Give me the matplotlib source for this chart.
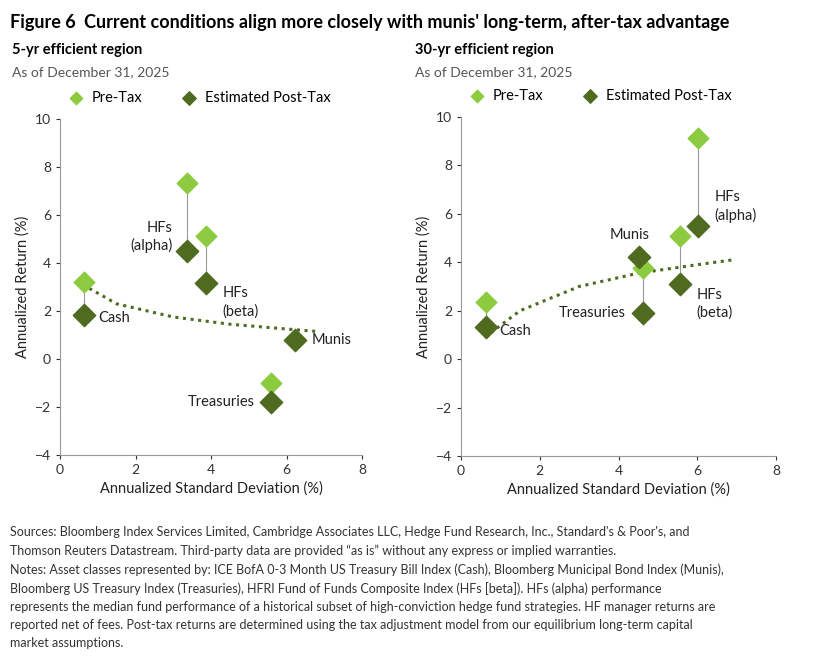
import matplotlib
matplotlib.use("Agg")
import matplotlib.pyplot as plt
import numpy as np

plt.rcParams['font.family'] = ['Lato', 'DejaVu Sans']

labels = ["Cash", "HFs\n(alpha)", "HFs\n(beta)", "Munis", "Treasuries"]
# 5-yr
x5 = [0.64, 3.36, 3.87, 6.22, 5.59]
pre5 = [3.2, 7.33, 5.12, 0.79, -1.0]
post5 = [1.83, 4.5, 3.17, 0.79, -1.79]
trend5_x = [0.6, 1.5, 3.0, 4.5, 6.0, 6.8]
trend5_y = [3.1, 2.3, 1.75, 1.45, 1.25, 1.15]
# 30-yr
x30 = [0.63, 6.02, 5.56, 4.52, 4.62]
pre30 = [2.36, 9.13, 5.08, 4.21, 3.76]
post30 = [1.32, 5.5, 3.1, 4.21, 1.9]
trend30_x = [0.6, 1.5, 3.0, 4.5, 6.0, 6.9]
trend30_y = [0.9, 2.0, 3.0, 3.55, 3.9, 4.1]

light = "#8CCB3F"
dark = "#4E6B1F"

fig = plt.figure(figsize=(8.13, 6.67), dpi=100)
fig.text(0.012, 0.967, "Figure 6", fontsize=13, fontweight='bold', va='center')
fig.text(0.103, 0.967, "Current conditions align more closely with munis' long-term, after-tax advantage",
         fontsize=13, fontweight='bold', va='center')

W, H = 813, 667
def axrect(l, r, t, b):
    return [l / W, 1 - b / H, (r - l) / W, (b - t) / H]

panels = [
    (axrect(60, 362, 119, 455), "5-yr efficient region", x5, pre5, post5, trend5_x, trend5_y, 12,
     {0: (10, -2, 'left'), 1: (-10, 10, 'right'), 2: (12, -14, 'left'), 3: (12, 0, 'left'), 4: (-12, 0, 'right')}),
    (axrect(461, 776, 117, 456), "30-yr efficient region", x30, pre30, post30, trend30_x, trend30_y, 415,
     {0: (10, -3, 'left'), 1: (12, 14, 'left'), 2: (12, -14, 'left'), 3: (8, 16, 'right'), 4: (-12, 0, 'right')}),
]

for rect, title, xs, pre, post, tx, ty, lx, offs in panels:
    ax = fig.add_axes(rect)
    fig.text(lx / W, 1 - 50 / H, title, fontsize=10.5, fontweight='bold', va='center')
    fig.text(lx / W, 1 - 72 / H, "As of December 31, 2025", fontsize=10, color='#555555', va='center')
    for x, a, b in zip(xs, pre, post):
        ax.plot([x, x], [a, b], color='#999999', lw=0.8, zorder=1)
    ax.plot(tx, ty, color='#4E6B1F', lw=2.2, ls=(0, (1, 1.5)), zorder=1)
    ax.scatter(xs, pre, marker='D', s=110, color=light, zorder=2, label='Pre-Tax')
    ax.scatter(xs, post, marker='D', s=130, color=dark, zorder=3, label='Estimated Post-Tax')
    for i, (x, b) in enumerate(zip(xs, post)):
        dx, dy, ha = offs[i]
        ax.annotate(labels[i], (x, b), xytext=(dx, dy), textcoords='offset points',
                    ha=ha, va='center', fontsize=10.5, color='#222222', linespacing=1.3)
    ax.set_xlim(0, 8)
    ax.set_ylim(-4, 10)
    ax.set_xticks([0, 2, 4, 6, 8])
    ax.set_yticks(range(-4, 11, 2))
    ax.tick_params(labelsize=10, colors='#333333', length=3)
    for s in ['top', 'right']:
        ax.spines[s].set_visible(False)
    for s in ['left', 'bottom']:
        ax.spines[s].set_color('#999999')
    ax.set_xlabel("Annualized Standard Deviation (%)", fontsize=10.5, color='#222222', labelpad=4)
    ax.set_ylabel("Annualized Return (%)", fontsize=10.5, color='#222222', labelpad=4)
    ax.legend(loc='lower left', bbox_to_anchor=(-0.02, 1.02), ncol=2, frameon=False,
              fontsize=10.5, handletextpad=0.1, columnspacing=2.2, markerscale=0.6,
              borderaxespad=0.1)

foot = ("Sources: Bloomberg Index Services Limited, Cambridge Associates LLC, Hedge Fund Research, Inc., Standard's & Poor's, and\n"
        "Thomson Reuters Datastream. Third-party data are provided \u201cas is\u201d without any express or implied warranties.\n"
        "Notes: Asset classes represented by: ICE BofA 0-3 Month US Treasury Bill Index (Cash), Bloomberg Municipal Bond Index (Munis),\n"
        "Bloomberg US Treasury Index (Treasuries), HFRI Fund of Funds Composite Index (HFs [beta]). HFs (alpha) performance\n"
        "represents the median fund performance of a historical subset of high-conviction hedge fund strategies. HF manager returns are\n"
        "reported net of fees. Post-tax returns are determined using the tax adjustment model from our equilibrium long-term capital\n"
        "market assumptions.")
fig.text(0.012, 1 - 526 / H, foot, fontsize=9, va='top', color='#333333', linespacing=1.6)

fig.savefig("out.png", dpi=100)
